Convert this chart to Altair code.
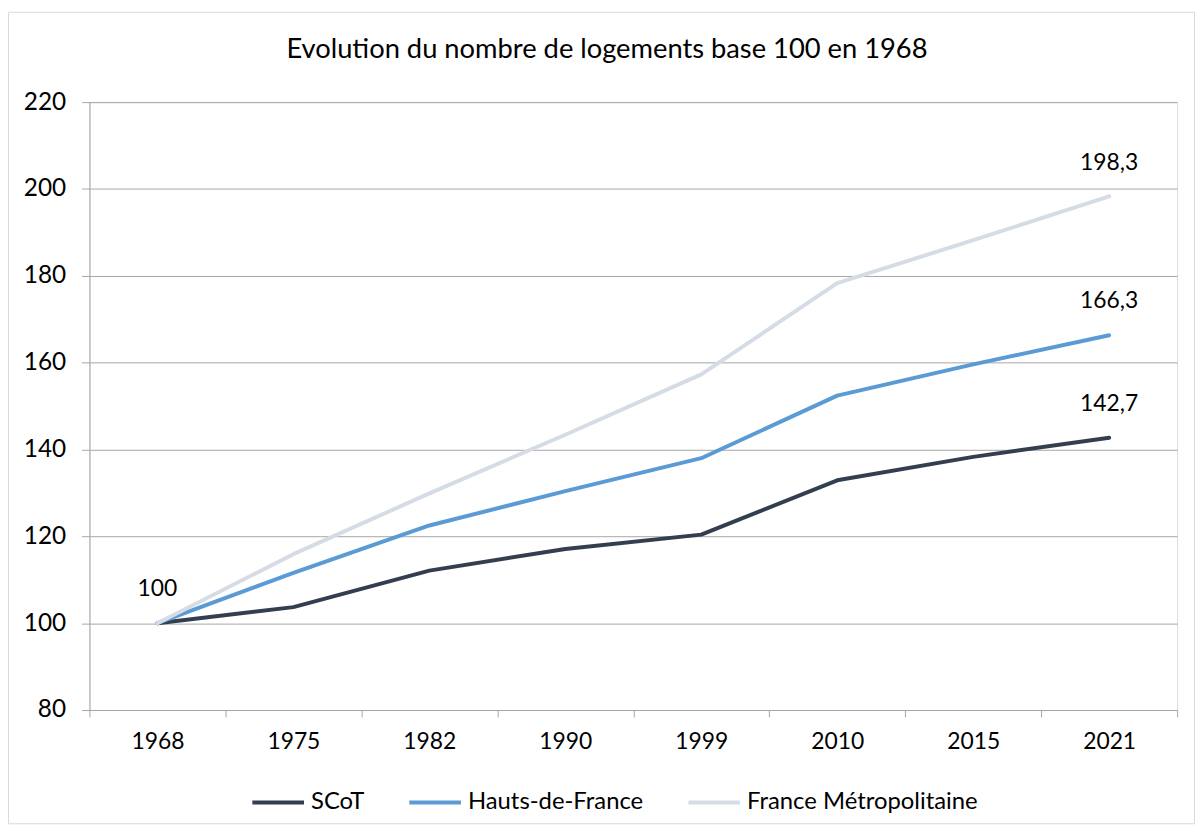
import altair as alt
import pandas as pd

years = ["1968", "1975", "1982", "1990", "1999", "2010", "2015", "2021"]
series_names = ["SCoT", "Hauts-de-France", "France Métropolitaine"]
scot = [100, 103.7, 112.1, 117.1, 120.4, 132.9, 138.3, 142.7]
hdf = [100, 111.6, 122.5, 130.4, 138.0, 152.4, 159.6, 166.3]
fm = [100, 115.9, 129.9, 143.4, 157.3, 178.3, 188.2, 198.3]
colors = ["#333F50", "#5B9BD5", "#D6DCE5"]
title_text = "Evolution du nombre de logements base 100 en 1968"

FONT = "Lato"

rows = []
for name, vals in zip(series_names, [scot, hdf, fm]):
    for i, (yr, v) in enumerate(zip(years, vals)):
        rows.append({"Année": yr, "Série": name, "Indice": v, "ordre": i})
df = pd.DataFrame(rows)


def fr(v):
    return f"{v:.1f}".replace(".", ",")


lab_rows = [{"Année": years[0], "Indice": scot[0], "txt": f"{scot[0]:.0f}"}]
for vals in [scot, hdf, fm]:
    lab_rows.append({"Année": years[-1], "Indice": vals[-1], "txt": fr(vals[-1])})
labels = pd.DataFrame(lab_rows)

xscale = alt.Scale(type="band", paddingInner=0, paddingOuter=0, domain=years)
xenc = alt.X(
    "Année:N",
    sort=years,
    scale=xscale,
    axis=alt.Axis(
        title=None, labelAngle=0, tickBand="extent", grid=False,
        labelFont=FONT, labelFontSize=23, labelColor="#000000",
        tickColor="#A6A6A6", tickSize=7, domainColor="#A6A6A6",
        labelPadding=14,
    ),
)
yscale = alt.Scale(domain=[80, 220], nice=False, zero=False)

lines = alt.Chart(df).mark_line(strokeWidth=4, strokeCap="round", strokeJoin="round").encode(
    x=xenc,
    y=alt.Y(
        "Indice:Q", scale=yscale,
        axis=alt.Axis(
            title=None, values=list(range(80, 221, 20)), grid=True,
            gridColor="#A6A6A6", gridWidth=1, tickColor="#A6A6A6", tickSize=8,
            domainColor="#A6A6A6", labelFont=FONT, labelFontSize=24.5,
            labelColor="#000000", labelPadding=16,
        ),
    ),
    color=alt.Color(
        "Série:N",
        scale=alt.Scale(domain=series_names, range=colors),
        legend=alt.Legend(
            title=None, orient="none", direction="horizontal",
            legendX=162, legendY=677, symbolType="stroke", symbolSize=2704,
            symbolStrokeWidth=4, labelFont=FONT, labelFontSize=24,
            labelColor="#000000", labelOffset=5, columnPadding=37,
            labelLimit=400,
        ),
    ),
    order=alt.Order("ordre:Q"),
)

texts = alt.Chart(labels).mark_text(
    font=FONT, fontSize=23, color="#000000", dy=-34, baseline="middle"
).encode(
    x=alt.X("Année:N", sort=years, scale=xscale),
    y=alt.Y("Indice:Q", scale=yscale),
    text="txt:N",
)

title = alt.Chart(alt.Data(values=[{"t": title_text}])).mark_text(
    font=FONT, fontSize=27.5, color="#000000", baseline="middle", align="center"
).encode(
    x=alt.value(521), y=alt.value(-52), text="t:N"
)

border = alt.Chart(alt.Data(values=[{}])).mark_rect(
    fill=None, stroke="#D9D9D9", strokeWidth=1
).encode(
    x=alt.value(-81.5), x2=alt.value(1112.5), y=alt.value(-90.5), y2=alt.value(726.5)
)

chart = alt.layer(border, title, lines, texts).properties(
    width=1095,
    height=612,
    padding={"left": 82, "top": 92, "right": 18, "bottom": 116},
    autosize="none",
).configure_view(stroke=None).configure(background="#FFFFFF")

chart.save("out.html", embed_options={"renderer": "svg", "actions": False})
